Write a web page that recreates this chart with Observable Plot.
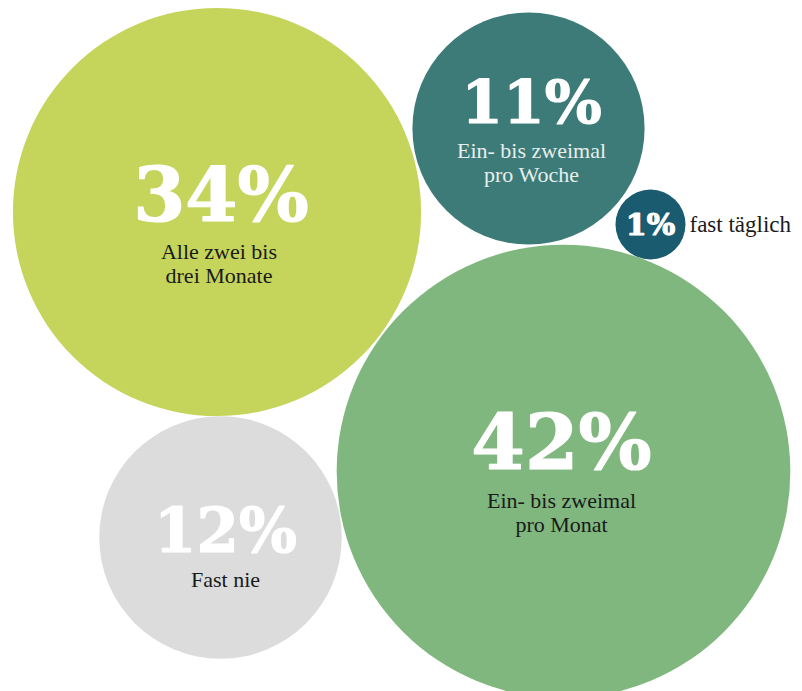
<!DOCTYPE html>
<html><head><meta charset="utf-8">
<script src="https://cdn.jsdelivr.net/npm/d3@7"></script>
<script src="https://cdn.jsdelivr.net/npm/@observablehq/plot@0.6"></script>
<style>html,body{margin:0;padding:0;background:#fff} #chart svg{display:block}</style>
</head><body><div id="chart"></div>
<script>
// Data
const categories = ["Alle zwei bis\ndrei Monate", "Ein- bis zweimal\npro Woche", "fast täglich", "Ein- bis zweimal\npro Monat", "Fast nie"];
const shares = [34, 11, 1, 42, 12];
const colors = ["#c5d55c", "#3d7b78", "#1b5b6f", "#7fb77e", "#dcdcdc"];
const labelColors = ["#1a1a1a", "#e6efed", "#1a1a1a", "#1a1a1a", "#1a1a1a"];

// Layout (bubble placement in pixel space, and text offsets)
const layoutX = [216.5, 528, 650, 563, 220];
const layoutY = [211.5, 128, 224, 471, 537];
const pctSize = [75, 60, 30, 77, 61];
const pctDx = [4, 3, 0, -2, 5];
const pctDy = [9, -6, 10, -3, 14];
const labelDx = [2, 3, 39, -2, 5];
const labelDy = [47, 29, 7, 36, 49];
const labelAnchor = ["middle", "middle", "start", "middle", "middle"];

const bubbles = categories.map((c, i) => ({
  category: c, share: shares[i], color: colors[i], labelColor: labelColors[i],
  cx: layoutX[i], cy: layoutY[i], pctSize: pctSize[i], pctDx: pctDx[i], pctDy: pctDy[i]
}));

const lines = categories.flatMap((c, i) => c.split("\n").map((t, j) => ({
  text: t, x: layoutX[i] + labelDx[i], y: layoutY[i] + labelDy[i] + j * 24,
  color: labelColors[i], anchor: labelAnchor[i]
})));

const chart = Plot.plot({
  width: 802, height: 691, margin: 0,
  x: {domain: [0, 802], range: [0, 802], axis: null},
  y: {domain: [0, 691], range: [0, 691], axis: null},
  r: {type: "sqrt", domain: [0, 42], range: [0, 35 * Math.sqrt(42)]},
  color: {type: "identity"},
  style: {background: "white"},
  marks: [
    Plot.dot(bubbles, {x: "cx", y: "cy", r: "share", fill: d => d.color, stroke: null}),
    Plot.text(bubbles, {
      x: d => d.cx + d.pctDx, y: d => d.cy + d.pctDy, text: d => d.share + "%",
      fontSize: d => d.pctSize, fontFamily: "DejaVu Serif", fontWeight: "bold",
      fill: "white", stroke: "white", strokeWidth: 1.2, lineAnchor: "bottom", textAnchor: "middle"
    }),
    Plot.text(lines.filter(d => d.anchor === "middle"), {
      x: "x", y: "y", text: "text", fill: d => d.color, fontSize: 22,
      fontFamily: "Liberation Serif", lineAnchor: "bottom", textAnchor: "middle"
    }),
    Plot.text(lines.filter(d => d.anchor === "start"), {
      x: "x", y: "y", text: "text", fill: d => d.color, fontSize: 23,
      fontFamily: "Liberation Serif", lineAnchor: "bottom", textAnchor: "start"
    })
  ]
});
document.getElementById("chart").appendChild(chart);
</script>
</body></html>
